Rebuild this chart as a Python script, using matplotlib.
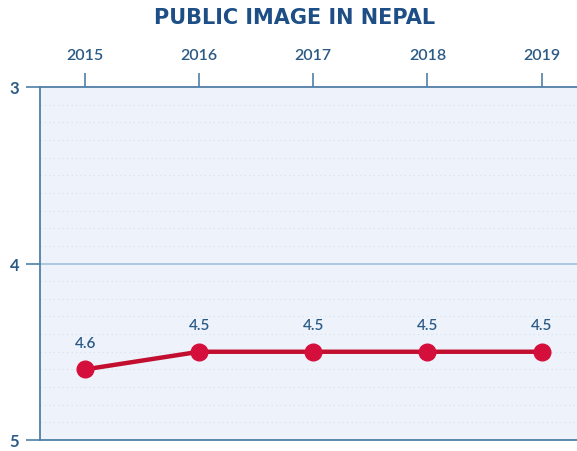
import matplotlib
matplotlib.use("Agg")
import matplotlib.pyplot as plt
import numpy as np

years = ["2015", "2016", "2017", "2018", "2019"]
values = [4.6, 4.5, 4.5, 4.5, 4.5]
value_labels = ["4.6", "4.5", "4.5", "4.5", "4.5"]
y_ticks = [3, 4, 5]
title = "PUBLIC IMAGE IN NEPAL"

plt.rcParams['font.family'] = ['Lato', 'DejaVu Sans']

axis_col = "#4f7fa6"
text_col = "#2b5a86"
line_col = "#c20f30"
title_col = "#1d4f86"

fig = plt.figure(figsize=(5.77, 4.52), dpi=100)
ax = fig.add_axes([40/577, 11/452, 1 - 40/577, (441-88)/452])
ax.set_facecolor("#eef3fb")

x = np.arange(len(years))
ax.plot(x, values, color=line_col, lw=3.2, marker='o', ms=12, mfc="#d40f3c", mec="#d40f3c", zorder=5)
for xi, v, lab in zip(x, values, value_labels):
    ax.annotate(lab, (xi, v), xytext=(0, 14), textcoords='offset points', ha='center', va='bottom',
                fontsize=11, fontweight='semibold', color=text_col)

ax.set_xlim(-0.395, 4.31)
ax.set_ylim(5, 3)
ax.set_yticks(y_ticks)
ax.set_yticklabels([str(t) for t in y_ticks], fontsize=12, fontweight='bold', color=text_col)
ax.set_xticks(x)
ax.set_xticklabels(years, fontsize=11.5, fontweight='semibold', color=text_col)
ax.xaxis.tick_top()
ax.tick_params(axis='x', direction='out', length=10, width=1.2, color=axis_col, pad=8)
ax.tick_params(axis='y', direction='out', length=10, width=1.2, color=axis_col, pad=5)

# faint dotted texture
ax.set_yticks(np.arange(3.1, 5.0, 0.1), minor=True)
ax.tick_params(axis='y', which='minor', length=0)
ax.grid(True, which='minor', axis='y', color="#d5deea", lw=0.8, ls=(0, (1, 3)))
ax.axhline(4, color="#9fc1da", lw=1.2, zorder=1)

for s in ['top', 'left', 'bottom']:
    ax.spines[s].set_color(axis_col)
    ax.spines[s].set_linewidth(1.3)
ax.spines['right'].set_visible(False)

fig.text(0.51, 1 - 18/452, title, ha='center', va='center', fontsize=15, fontweight='bold',
         family=['DejaVu Sans'], color=title_col)

fig.savefig("out.png", dpi=100)
